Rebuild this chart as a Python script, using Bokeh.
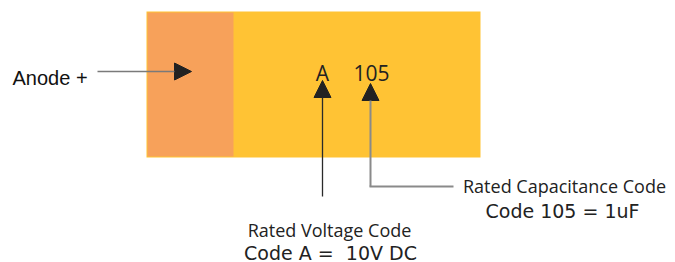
from bokeh.plotting import figure
from bokeh.models import Range1d, Arrow, NormalHead
from bokeh.core.properties import value
from bokeh.embed import file_html
from bokeh.resources import INLINE

# ---- diagram data (page pixel coordinates) ----
part_names = ["body", "anode band"]
part_left = [146, 147]
part_right = [480, 233]
part_top = [11, 12]
part_bottom = [157, 156]
part_colors = ["#FFC334", "#F7A15A"]

marking_texts = ["A", "105"]
marking_x = [322, 371]
marking_y = [72, 72]

anode_label = ["Anode +"]
anode_x = [12]
anode_y = [77]

narrow_texts = ["Rated Capacitance Code", "Rated Voltage Code"]
narrow_x = [564, 329]
narrow_y = [185, 229]

wide_texts = ["Code 105 = 1uF", "Code A = \u00a010V DC"]
wide_x = [562, 330]
wide_y = [210, 252]

# arrows: (x_start, y_start, x_end, y_end)
arrow_x0 = [97, 322, 370]
arrow_y0 = [71, 196, 186]
arrow_x1 = [191, 322, 370]
arrow_y1 = [71, 80, 83]
arrow_colors = ["#7a7a7a", "#2a2a2a", "#8a8a8a"]
arrow_widths = [1.5, 1.3, 2.0]

leader_x0 = [369]
leader_y0 = [186]
leader_x1 = [453]
leader_y1 = [186]

W, H = 675, 262
p = figure(width=W, height=H, output_backend="svg", toolbar_location=None,
           x_range=Range1d(0, W), y_range=Range1d(H, 0),
           min_border=0, tools="")
p.axis.visible = False
p.grid.visible = False
p.outline_line_color = None
p.background_fill_color = "white"

p.quad(left=part_left, right=part_right, top=part_top, bottom=part_bottom,
       fill_color=part_colors, line_color=None)

p.segment(x0=leader_x0, y0=leader_y0, x1=leader_x1, y1=leader_y1,
          line_color="#8a8a8a", line_width=2.0)

for xs, ys, xe, ye, c, w in zip(arrow_x0, arrow_y0, arrow_x1, arrow_y1, arrow_colors, arrow_widths):
    p.add_layout(Arrow(end=NormalHead(size=17, fill_color="#222222", line_color="#222222", line_width=1),
                       x_start=xs, y_start=ys, x_end=xe, y_end=ye,
                       line_color=c, line_width=w))

p.text(x=marking_x, y=marking_y, text=marking_texts, text_font=value("Open Sans"),
       text_font_size="21px", text_color="#222222", text_align="center",
       text_baseline="alphabetic")

p.text(x=anode_x, y=anode_y, text=anode_label, text_font=value("Liberation Sans"),
       text_font_size="20px", text_color="#111111", text_align="left",
       text_baseline="alphabetic")

p.text(x=narrow_x, y=narrow_y, text=narrow_texts, text_font=value("Open Sans"),
       text_font_size="18px", text_color="#222222", text_align="center",
       text_baseline="alphabetic")

p.text(x=wide_x, y=wide_y, text=wide_texts, text_font=value("DejaVu Sans"),
       text_font_size="19px", text_color="#222222", text_align="center",
       text_baseline="alphabetic")

open("out.html", "w").write(file_html(p, INLINE))
